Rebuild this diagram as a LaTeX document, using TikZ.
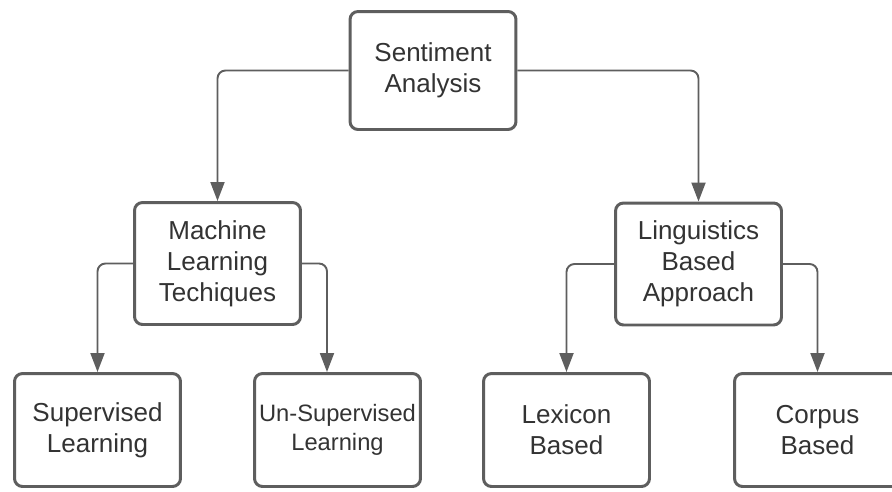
\documentclass[tikz,border=0pt]{standalone}
\usepackage{fontspec}
\setmainfont{Liberation Sans}
\usetikzlibrary{arrows.meta}
\definecolor{edgegray}{HTML}{5E5E5E}
\definecolor{textgray}{HTML}{333333}

\begin{document}
\begin{tikzpicture}[x=0.02cm, y=-0.02cm,
  box/.style={draw=edgegray, line width=1.7pt, rounded corners=0.16cm, fill=white, text=textgray,
    align=center, inner sep=0pt, minimum width=3.32cm, font=\fontsize{14.8}{17.6}\selectfont},
  link/.style={draw=edgegray, line width=1.1pt, rounded corners=0.16cm,
    -{Triangle[length=0.38cm,width=0.28cm]}}]
  \useasboundingbox (0,0) rectangle (892,491);
  \clip (0,0) rectangle (892,491);
  \node[box, minimum height=2.36cm] (SA) at (433,70.5) {Sentiment\\Analysis};
  \node[box, minimum height=2.44cm] (ML) at (217.5,263.5) {Machine\\Learning\\Techiques};
  \node[box, minimum height=2.44cm] (LB) at (698.5,264) {Linguistics\\Based\\Approach};
  \node[box, minimum height=2.26cm] (SL) at (97.5,430) {Supervised\\Learning};
  \node[box, minimum height=2.26cm, font=\fontsize{13.5}{16.2}\selectfont] (UL) at (337.5,430) {Un-Supervised\\Learning};
  \node[box, minimum height=2.26cm] (LX) at (566.5,430) {Lexicon\\Based};
  \node[box, minimum height=2.26cm] (CB) at (817.5,430) {Corpus\\Based};
  \draw[link] (SA.west) -| (ML.north);
  \draw[link] (SA.east) -| (LB.north);
  \draw[link] (ML.west) -| (SL.north);
  \draw[link] (ML.east) -| ([xshift=-0.21cm]UL.north);
  \draw[link] (LB.west) -| (LX.north);
  \draw[link] (LB.east) -| (CB.north);
\end{tikzpicture}
\end{document}
